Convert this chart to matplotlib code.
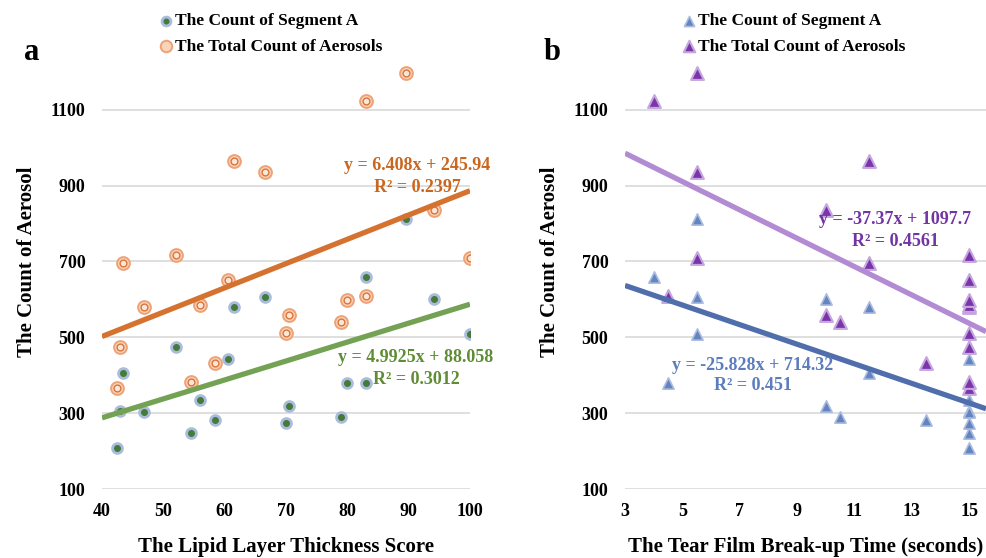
import numpy as np
import matplotlib as mpl
mpl.use('Agg')
import matplotlib.pyplot as plt

plt.rcParams['font.family'] = ['Liberation Serif', 'DejaVu Serif']
plt.rcParams['font.weight'] = 'bold'

# one entry per subject
lipid_score = [42.5, 42.9, 43.4, 46.9, 52.0, 54.5, 56.0, 58.5, 60.5, 61.5,
               66.5, 70.0, 70.5, 79.0, 80.0, 83.0, 83.0, 89.5, 94.2, 100.0]
breakup_time = [15, 15, 11.5, 15, 15, 15, 15, 13.5, 15, 11.5,
                5.5, 15, 10, 10.5, 15, 4.5, 4, 5.5, 10, 5.5]
segment_a = [207, 307, 405, 303, 474, 249, 335, 282, 443, 581,
             607, 273, 319, 289, 379, 379, 660, 812, 600, 508]
total_count = [366, 475, 697, 581, 716, 383, 586, 433, 651, 966,
               935, 511, 560, 540, 599, 610, 1122, 1198, 836, 709]

# trendline coefficients (slope, intercept) and R^2 as printed
fit_a_seg = (4.9925, 88.058, '0.3012')
fit_a_tot = (6.408, 245.94, '0.2397')
fit_b_seg = (-25.828, 714.32, '0.451')
fit_b_tot = (-37.37, 1097.7, '0.4561')

y_ticks = [100, 300, 500, 700, 900, 1100]
xa_ticks = [40, 50, 60, 70, 80, 90, 100]
xb_ticks = [3, 5, 7, 9, 11, 13, 15]

W, H = 986, 558
fig = plt.figure(figsize=(W / 100, H / 100), dpi=100)

def px_axes(x0, x1, y_bottom, y_top):
    return fig.add_axes([x0 / W, 1 - y_bottom / H, (x1 - x0) / W, (y_bottom - y_top) / H])

ax1 = px_axes(102, 470, 489, 34)
ax2 = px_axes(625, 986, 489, 34)

def style(ax, xticks, xlim):
    ax.set_ylim(100, 1300)
    ax.set_xlim(*xlim)
    ax.set_yticks(y_ticks)
    ax.set_xticks(xticks)
    for s in ax.spines.values():
        s.set_visible(False)
    ax.tick_params(length=0, labelsize=13)
    ax.tick_params(axis='x', pad=10)
    ax.tick_params(axis='y', pad=12)
    for lab in ax.get_xticklabels() + ax.get_yticklabels():
        lab.set_fontweight('bold')
    ax.grid(axis='y', color='#d9d9d9', linewidth=1.2)
    ax.set_axisbelow(True)
    ax.set_ylabel('The Count of Aerosol', fontsize=15, fontweight='bold', labelpad=10)

style(ax1, xa_ticks, (40, 100))
style(ax2, xb_ticks, (3, 15.59))
ax1.set_xlabel('The Lipid Layer Thickness Score', fontsize=15, fontweight='bold', labelpad=12)
ax2.set_xlabel('The Tear Film Break-up Time (seconds)', fontsize=15, fontweight='bold', labelpad=12)

# panel a
ax1.scatter(lipid_score, segment_a, s=50, marker='o', facecolor='#457a3a',
            edgecolor='#a9bcdc', linewidth=2.0, zorder=3, label='The Count of Segment A')
ax1.scatter(lipid_score, total_count, s=85, marker='o', facecolor='#f8d4bb',
            edgecolor='#eea276', linewidth=1.4, zorder=3, label='The Total Count of Aerosols')
ax1.scatter(lipid_score, total_count, s=24, marker='o', facecolor='#fbe6d8',
            edgecolor='#d8763a', linewidth=1.0, zorder=3)

xs = np.array([40, 100])
ax1.plot(xs, fit_a_tot[0] * xs + fit_a_tot[1], color='#d5722f', linewidth=3.8, zorder=4,
         solid_capstyle='butt')
ax1.plot(xs, fit_a_seg[0] * xs + fit_a_seg[1], color='#74a255', linewidth=3.8, zorder=4,
         solid_capstyle='butt')

# panel b
ax2.scatter(breakup_time, segment_a, s=66, marker='^', facecolor='#6484c0',
            edgecolor='#aabde0', linewidth=1.2, zorder=3, label='The Count of Segment A')
ax2.scatter(breakup_time, total_count, s=85, marker='^', facecolor='#7b35ab',
            edgecolor='#c5a6de', linewidth=1.5, zorder=3, label='The Total Count of Aerosols')

xs = np.array([3, 15.59])
ax2.plot(xs, fit_b_tot[0] * xs + fit_b_tot[1], color='#b38bd2', linewidth=3.8, zorder=4,
         solid_capstyle='butt')
ax2.plot(xs, fit_b_seg[0] * xs + fit_b_seg[1], color='#4f6eab', linewidth=3.8, zorder=4,
         solid_capstyle='butt')

def eq_text(xc, y_top, fit, color, fmt):
    fig.text(xc / W, 1 - y_top / H, fmt.format(fit[0], fit[1]), color=color,
             fontsize=13, fontweight='bold', ha='center', va='center')
    fig.text(xc / W, 1 - (y_top + 21) / H, 'R² = ' + fit[2], color=color,
             fontsize=13, fontweight='bold', ha='center', va='center')

eq_text(417, 166, fit_a_tot, '#c9661f', 'y = {}x + {}')
eq_text(416, 358, fit_a_seg, '#5f8d35', 'y = {}x + {}')
eq_text(895, 220, fit_b_tot, '#7233a3', 'y = {}x + {}')
eq_text(753, 365, fit_b_seg, '#5b7dbd', 'y = {}x + {}')

fig.text(32 / W, 1 - 52 / H, 'a', fontsize=22, fontweight='bold', va='center', ha='center')
fig.text(552 / W, 1 - 52 / H, 'b', fontsize=22, fontweight='bold', va='center', ha='center')

for ax, x0 in ((ax1, 151), (ax2, 674)):
    fig.legend(handles=ax.collections[:2], loc='upper left',
               bbox_to_anchor=(x0 / W, 1 - 6 / H), frameon=False,
               prop={'size': 12.5, 'weight': 'bold'}, handletextpad=0.1,
               labelspacing=0.55, handlelength=0.9, markerscale=0.9,
               borderaxespad=0)

fig.savefig('out.png', dpi=100)
